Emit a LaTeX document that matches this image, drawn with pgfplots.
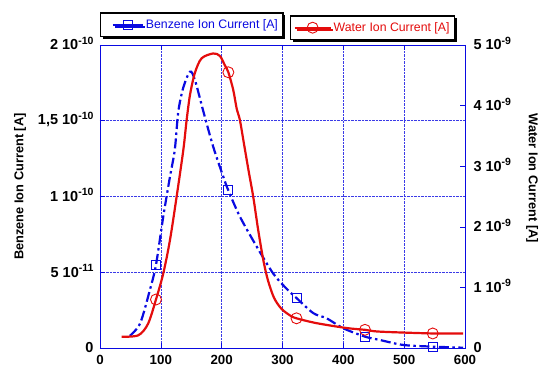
\documentclass[border=0pt]{standalone}
\usepackage{fontspec}
\setmainfont{Liberation Sans}
\usepackage{pgfplots}
\pgfplotsset{compat=1.18}
\usetikzlibrary{shadows}

\definecolor{benzblue}{RGB}{10,10,225}
\definecolor{waterred}{RGB}{228,12,12}

% exponent written after the mantissa, e.g. 2 10^-10
\newcommand{\sups}[1]{\smash{\raisebox{5.5pt}{\fontsize{10.5}{11}\selectfont #1}}}

% Benzene ion current, in units of 1e-10 A
\pgfplotstableread{
T     I
49    0.08
66    0.163
82    0.383
92    0.548
104   0.867
115   1.13
123   1.31
128.7 1.56
137   1.72
148   1.824
156   1.77
170   1.56
186   1.33
202.7 1.13
211   1.04
230   0.867
257.5 0.67
285   0.49
307   0.39
323   0.33
350.7 0.23
372.6 0.196
400   0.13
435.6 0.075
460   0.053
498.6 0.02
547   0.009
597   0.002
}\benzene

% Water ion current, in units of 1e-9 A
\pgfplotstableread{
T     I
35.6  0.186
63    0.21
79    0.40
92    0.80
104   1.23
115   1.78
126   2.50
137   3.27
142.4 3.76
148   4.18
156   4.54
167   4.78
186   4.86
197   4.82
205.5 4.66
211   4.55
219   4.26
224.7 3.95
230   3.76
237   3.35
244   2.94
252   2.49
260   1.95
268.5 1.45
276   1.12
286   0.83
298   0.65
312   0.54
323   0.49
356   0.41
405   0.33
435.6 0.30
460   0.27
547   0.24
597   0.24
}\water

\pgfplotsset{
  every axis/.append style={
    scale only axis,
    width=365pt, height=303pt,
    xmin=0, xmax=600,
    axis line style={benzblue, line width=0.8pt},
    tick style={benzblue, line width=0.6pt},
    major tick length=5pt,
    tick align=inside,
    xticklabel style={font=\bfseries\fontsize{13.3}{15}\selectfont, text=black},
    yticklabel style={font=\bfseries\fontsize{14.5}{16}\selectfont, text=black},
    label style={font=\bfseries\fontsize{12.8}{14}\selectfont},
    legend style={
      draw=black, line width=1.5pt, fill=white,
      drop shadow={shadow xshift=2.2pt, shadow yshift=-2.2pt, fill=black, opacity=1},
      font=\fontsize{12.3}{14}\selectfont,
      inner xsep=3pt, inner ysep=4.5pt,
      anchor=south west,
    },
  },
}

\begin{document}
\begin{tikzpicture}
% Left axis: benzene
\begin{axis}[
  ymin=0, ymax=2,
  xtick={0,100,...,600},
  xticklabels={0,100,200,300,400,500,600},
  xtick pos=both,
  ytick={0,0.5,1,1.5,2},
  yticklabels={0,{5 10\sups{-11}},{1 10\sups{-10}},{1,5 10\sups{-10}},{2 10\sups{-10}}},
  ytick pos=left,
  xticklabel style={yshift=-4pt},
  yticklabel style={xshift=-3pt},
  grid=major,
  grid style={benzblue!80, densely dotted, line width=0.6pt},
  ylabel={Benzene Ion Current [A]},
  ylabel style={at={(axis description cs:-0.219,0.533)}, anchor=center},
  legend style={at={(axis description cs:0.0,1.026)}, text=benzblue},
  legend image code/.code={%
    \path (-8pt,0pt);
    \draw[#1] plot coordinates {(0pt,0pt)(15pt,0pt)(30pt,0pt)};},
]
\addplot[benzblue, line width=2.2pt, smooth, tension=0.5,
  dash pattern=on 10pt off 3.5pt on 2.5pt off 3.5pt,
  mark=square, mark size=4.5pt, mark indices={4,15,20,24,27},
  mark options={solid, line width=0.9pt, fill=none},
  legend image post style={solid, mark indices={2}}]
  table[x=T, y=I] {\benzene};
\addlegendentry{Benzene Ion Current [A]}
\end{axis}
% Right axis: water
\begin{axis}[
  ymin=0, ymax=5,
  axis x line=none,
  axis y line*=right,
  ytick={0,1,2,3,4,5},
  yticklabels={0,{1 10\sups{-9}},{2 10\sups{-9}},{3 10\sups{-9}},{4 10\sups{-9}},{5 10\sups{-9}}},
  yticklabel style={xshift=5pt},
  ylabel={Water Ion Current [A]},
  ylabel style={at={(axis description cs:1.184,0.56)}, anchor=center, rotate=180},
  legend style={at={(axis description cs:0.52,1.016)}, text=waterred},
  legend image code/.code={%
    \draw[#1] plot coordinates {(0pt,0pt)(18pt,0pt)(36pt,0pt)};},
]
\addplot[waterred, line width=2.2pt, smooth, tension=0.5,
  mark=o, mark size=5.5pt, mark indices={4,16,29,32,34},
  mark options={solid, line width=0.9pt, fill=none},
  legend image post style={mark indices={2}}]
  table[x=T, y=I] {\water};
\addlegendentry{Water Ion Current [A]}
\end{axis}
\pgfresetboundingbox
\path[use as bounding box] (-100pt,-25pt) rectangle (442pt,348pt);
\end{tikzpicture}
\end{document}
